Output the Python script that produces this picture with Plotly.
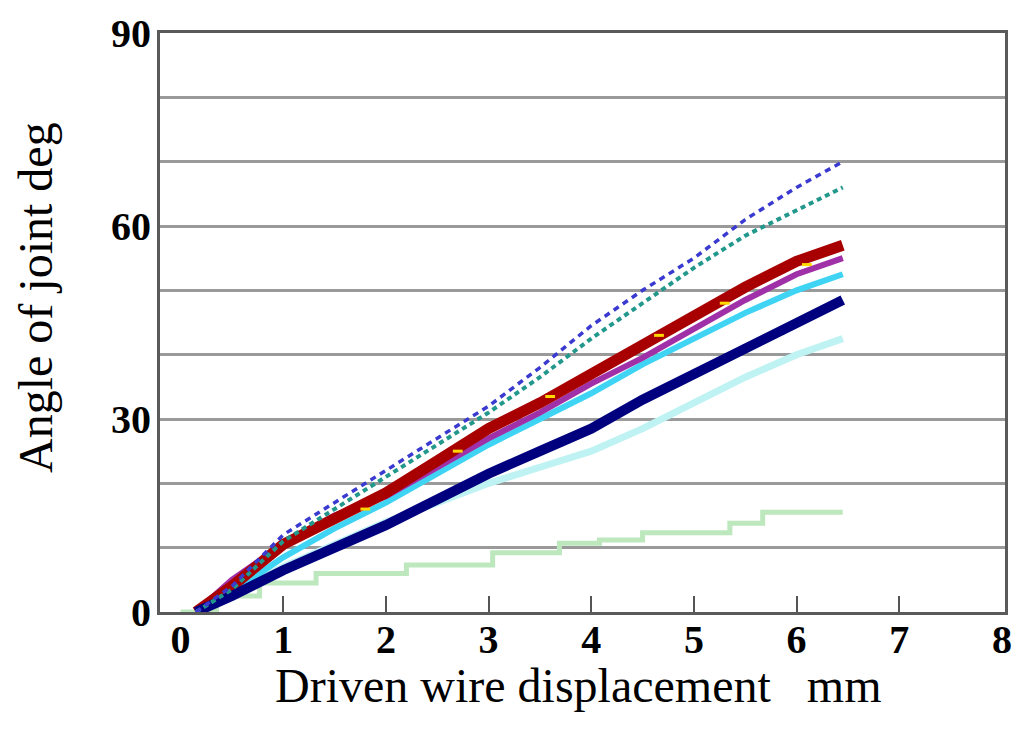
import plotly.graph_objects as go

# Driven wire displacement (mm) sample positions shared by the measured curves
disp = [0.15, 0.5, 1.0, 1.5, 2.0, 2.5, 3.0, 3.5, 4.0, 4.5, 5.0, 5.5, 6.0, 6.45]

# Joint angle (deg) for each trial
angle_blue = [0.0, 4.0, 12.0, 17.0, 22.0, 27.0, 32.0, 38.0, 44.5, 50.0, 55.0, 61.0, 66.0, 70.0]
angle_teal = [0.0, 3.5, 11.0, 16.0, 21.0, 26.0, 31.0, 36.5, 42.5, 48.0, 53.5, 58.5, 62.5, 66.0]
angle_red = [0.0, 4.0, 10.5, 14.5, 18.5, 23.5, 28.5, 32.5, 37.0, 41.5, 46.0, 50.5, 54.5, 57.0]
angle_magenta = [0.0, 5.0, 10.5, 15.0, 18.0, 22.5, 27.0, 31.0, 35.5, 39.5, 44.0, 48.5, 52.5, 55.0]
angle_cyan = [0.0, 3.0, 8.5, 13.0, 17.0, 21.5, 26.0, 30.0, 34.0, 38.5, 42.5, 46.5, 50.0, 52.5]
angle_navy = [0.0, 2.5, 6.5, 10.0, 13.5, 17.5, 21.5, 25.0, 28.5, 33.0, 37.0, 41.0, 45.0, 48.5]
angle_pale_cyan = [0.0, 3.0, 7.0, 10.5, 14.0, 17.0, 20.0, 22.5, 25.0, 28.5, 32.5, 36.5, 40.0, 42.5]

# Stepped trial (held values between encoder steps)
step_disp = [0.0, 0.35, 0.77, 1.32, 2.2, 3.04, 3.69, 4.08, 4.5, 5.35, 5.67, 6.45]
step_angle = [0.0, 2.5, 4.5, 6.0, 7.3, 9.2, 10.7, 11.2, 12.3, 13.8, 15.5, 15.5]

# Scattered readings of the yellow trial
yellow_disp = [1.8, 2.7, 3.6, 4.66, 5.3, 6.1]
yellow_angle = [16.0, 25.0, 33.5, 43.0, 48.0, 54.0]

x_ticks = [0, 1, 2, 3, 4, 5, 6, 7, 8]
y_grid = [0, 10, 20, 30, 40, 50, 60, 70, 80, 90]
y_labels = ["0", "", "", "30", "", "", "60", "", "", "90"]

FONT = "Liberation Serif, Times New Roman, serif"

fig = go.Figure()

fig.add_trace(go.Scatter(x=step_disp, y=step_angle, mode="lines", line_shape="hv",
                         line=dict(color="#bde8bd", width=5)))
fig.add_trace(go.Scatter(x=disp, y=angle_pale_cyan, mode="lines",
                         line=dict(color="#bff2f2", width=7)))
fig.add_trace(go.Scatter(x=disp, y=angle_cyan, mode="lines",
                         line=dict(color="#40d4f4", width=6)))
fig.add_trace(go.Scatter(x=disp, y=angle_magenta, mode="lines",
                         line=dict(color="#a030a8", width=6)))
fig.add_trace(go.Scatter(x=disp, y=angle_red, mode="lines",
                         line=dict(color="#a80000", width=11)))
fig.add_trace(go.Scatter(x=yellow_disp, y=yellow_angle, mode="markers",
                         marker=dict(symbol="line-ew", size=7, color="#ffd800",
                                     line=dict(color="#ffd800", width=3))))
fig.add_trace(go.Scatter(x=disp, y=angle_navy, mode="lines",
                         line=dict(color="#00007f", width=10)))
fig.add_trace(go.Scatter(x=disp, y=angle_teal, mode="lines",
                         line=dict(color="#22988c", width=4, dash="5px,4px")))
fig.add_trace(go.Scatter(x=disp, y=angle_blue, mode="lines",
                         line=dict(color="#3a3ad0", width=3.5, dash="6px,5px")))

# overlay axis that only carries the inside tick marks
fig.add_trace(go.Scatter(x=[None], y=[None], xaxis="x2", mode="markers", hoverinfo="skip"))

fig.update_layout(
    width=1023, height=747,
    margin=dict(l=160, r=18, t=33, b=135),
    paper_bgcolor="white", plot_bgcolor="white",
    showlegend=False,
    font=dict(family=FONT, color="black"),
    xaxis=dict(
        range=[-0.2, 8.03], tickvals=x_ticks, ticks="", showgrid=False,
        zeroline=False, showline=True, linecolor="#5a5a5a", linewidth=3, mirror=True,
        tickfont=dict(family=FONT, size=40, color="black", weight="bold"),
        ticklabelstandoff=-10,
    ),
    xaxis2=dict(
        overlaying="x", matches="x", anchor="y", side="bottom",
        range=[-0.2, 8.03], tickvals=[1, 2, 3, 4, 5, 6, 7],
        ticks="inside", ticklen=16, tickwidth=1.5, tickcolor="#555555",
        showticklabels=False, showgrid=False, zeroline=False, showline=False,
    ),
    yaxis=dict(
        range=[0, 90], tickvals=y_grid, ticktext=y_labels, ticks="",
        showgrid=True, gridcolor="#9a9a9a", gridwidth=2.5,
        zeroline=False, showline=True, linecolor="#5a5a5a", linewidth=3, mirror=True,
        tickfont=dict(family=FONT, size=40, color="black", weight="bold"),
        ticklabelstandoff=-2,
    ),
    annotations=[
        dict(text="Driven wire displacement\u00a0\u00a0\u00a0mm", xref="paper", yref="paper",
             x=0.495, y=-0.078, xanchor="center", yanchor="top", showarrow=False,
             font=dict(family=FONT, size=48, color="black")),
        dict(text="Angle of joint deg", xref="paper", yref="paper", textangle=-90,
             x=-0.148, y=0.544, xanchor="center", yanchor="middle", showarrow=False,
             font=dict(family=FONT, size=48, color="black")),
    ],
)

fig.write_html("out.html")
